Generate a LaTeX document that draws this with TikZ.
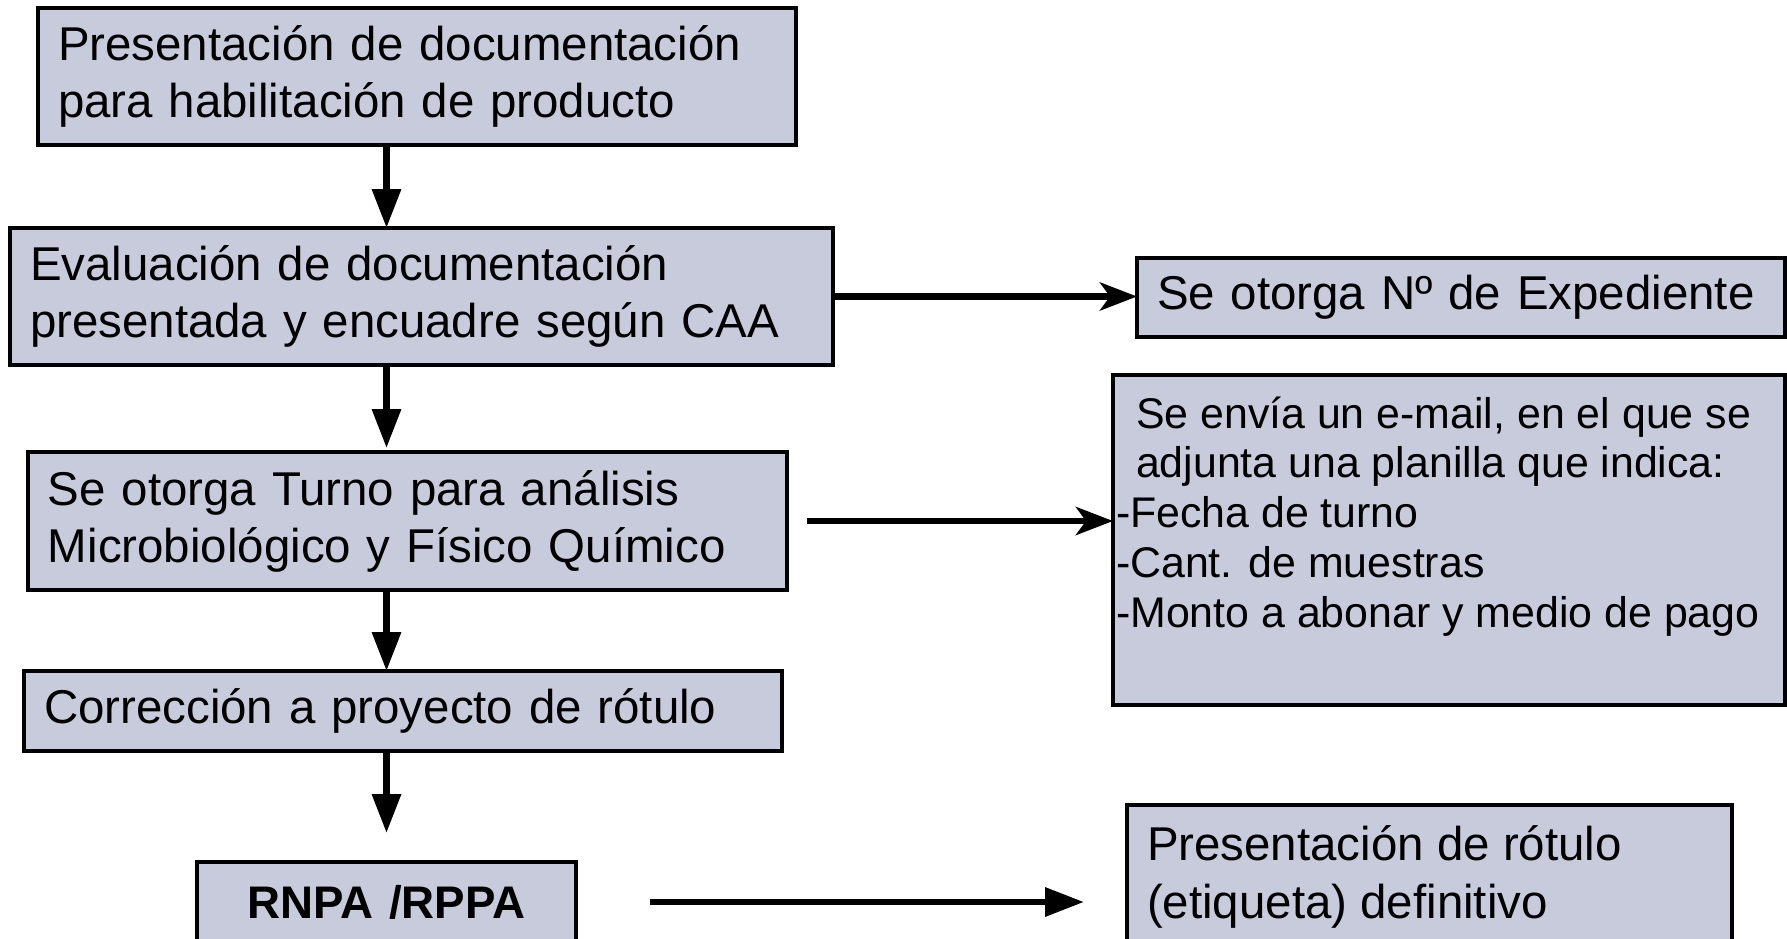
\documentclass[tikz,border=0pt]{standalone}
\usepackage{fontspec}
\setmainfont{Liberation Sans}
\usepackage{tikz}
\usetikzlibrary{arrows.meta}
\definecolor{cajagris}{RGB}{200,203,219}

\begin{document}
\begin{tikzpicture}[
  caja/.style={draw=black,fill=cajagris,line width=1.2pt,anchor=north west,outer sep=0pt,
    inner xsep=0.2cm,inner ysep=0pt,align=left,font=\fontsize{13.5}{16.2}\selectfont},
  flecha/.style={draw=black,line width=1.85pt,-{Triangle[length=0.39cm,width=0.28cm]}},
  flechaenvio/.style={draw=black,line width=1.85pt,-{Stealth[length=0.37cm,width=0.28cm,inset=0.1cm]}}]
\useasboundingbox (0,0) rectangle (17.87,-9.38);
\clip (0,0) rectangle (17.87,-9.38);
% -> columna de tramites
\node[caja,text width=7.18cm,minimum height=1.37cm] (doc) at (0.38,-0.08) {Presentación de documentación\\para habilitación de producto};
\node[caja,text width=7.83cm,minimum height=1.37cm] (eval) at (0.10,-2.28) {Evaluación de documentación\\presentada y encuadre según CAA};
\node[caja,text width=7.19cm,minimum height=1.38cm] (turno) at (0.28,-4.52) {Se otorga Turno para análisis\\Microbiológico y Físico Químico};
\node[caja,text width=7.18cm,minimum height=0.80cm] (correccion) at (0.24,-6.71) {Corrección a proyecto de rótulo};
\node[caja,text width=3.39cm,minimum height=0.80cm,align=center,font=\bfseries\fontsize{13}{15.6}\selectfont] (rnpa) at (1.97,-8.62) {RNPA /RPPA};
% -> resultados a la derecha
\node[caja,text width=6.08cm,minimum height=0.79cm] (expte) at (11.37,-2.58) {Se otorga Nº de Expediente};
\node[caja,inner xsep=0.03cm,font=\fontsize{12.2}{14.2}\selectfont] (correo) at (11.13,-3.75) {\parbox[t][3.30cm][t]{6.66cm}{\raggedright\rule{0pt}{0.53cm}\hspace*{0.2cm}Se envía un e-mail, en el que se\\\hspace*{0.2cm}adjunta una planilla que indica:\\-Fecha de turno\\-Cant. de muestras\\-Monto a abonar y medio de pago}};
\node[caja] (rotulo) at (11.27,-8.05) {\parbox[t][1.5cm][t]{5.65cm}{\raggedright\fontsize{13.5}{16.6}\selectfont\rule{0pt}{0.55cm}Presentación de rótulo\\(etiqueta) definitivo}};
% -> flechas
\draw[flecha] (doc.south -| rnpa.north) -- (eval.north -| rnpa.north);
\draw[flecha,shorten >=0.04cm] (eval.south -| rnpa.north) -- (turno.north -| rnpa.north);
\draw[flecha] (turno.south -| rnpa.north) -- (correccion.north -| rnpa.north);
\draw[flecha,shorten >=0.29cm] (correccion.south -| rnpa.north) -- (rnpa.north);
\draw[flechaenvio] (eval.east) -- (eval.east -| expte.west);
\draw[flechaenvio,shorten <=0.2cm] (turno.east) -- (turno.east -| correo.west);
\draw[flecha,shorten <=0.74cm,shorten >=0.43cm] (rnpa.east) -- (rnpa.east -| rotulo.west);
\end{tikzpicture}
\end{document}
